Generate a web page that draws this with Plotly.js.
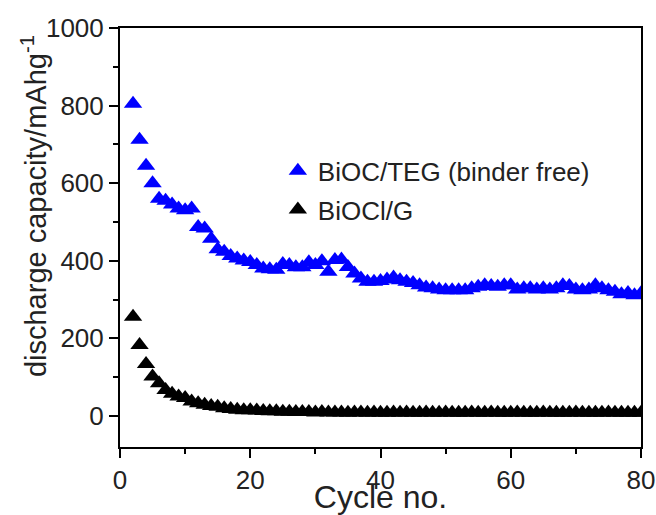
<!DOCTYPE html>
<html>
<head>
<meta charset="utf-8">
<script src="https://cdn.plot.ly/plotly-3.0.1.min.js"></script>
<style>html,body{margin:0;padding:0;background:#fff;}#chart{width:656px;height:515px;}</style>
</head>
<body>
<div id="chart"></div>
<script>
const cycles = [2,3,4,5,6,7,8,9,10,11,12,13,14,15,16,17,18,19,20,21,22,23,24,25,26,27,28,29,30,31,32,33,34,35,36,37,38,39,40,41,42,43,44,45,46,47,48,49,50,51,52,53,54,55,56,57,58,59,60,61,62,63,64,65,66,67,68,69,70,71,72,73,74,75,76,77,78,79,80];
const bioTEG = [805,712,645,600,560,555,545,535,530,535,487,483,457,430,423,412,406,401,397,389,380,378,377,392,389,383,383,396,389,399,372,402,403,384,367,354,346,346,348,352,357,350,346,343,337,331,329,326,324,324,324,324,329,333,337,335,333,337,337,326,329,329,326,329,326,329,337,335,326,324,326,337,329,324,320,314,317,311,316];
const bioG = [256,183,134,102,84,67,57,50,46,37,33,29,26,24,20,18,16,15,15,14,13,12,12,11,11,10,10,10,9,10,9,9,9,8,9,9,8,9,8,8,9,8,9,8,8,9,8,8,9,8,8,8,9,8,8,9,8,8,8,9,8,8,8,9,8,8,8,8,9,8,8,8,8,9,8,8,8,8,8];
const seriesNames = ['BiOC/TEG (binder free)', 'BiOCl/G'];
const xTickVals = [0,20,40,60,80];
const yTickVals = [0,200,400,600,800,1000];

const FONT = 'Liberation Sans, Arial, sans-serif';
const traces = [
  {x: cycles, y: bioTEG, name: seriesNames[0], type: 'scatter', mode: 'markers', legendgroup: 'a',
   marker: {symbol: 'triangle-up', size: 16, color: '#0000ff', line: {width: 0}}},
  {x: cycles, y: bioG, name: seriesNames[1], type: 'scatter', mode: 'markers', legendgroup: 'b',
   marker: {symbol: 'triangle-up', size: 16, color: '#000000', line: {width: 0}}}
];
const axisCommon = {
  showgrid: false, zeroline: false, showline: true, linecolor: '#000', linewidth: 2, mirror: true,
  ticks: 'outside', ticklen: 9, tickwidth: 2, tickcolor: '#000',
  tickfont: {family: FONT, size: 26, color: '#222'}
};
const layout = {
  width: 656, height: 515,
  margin: {l: 120, r: 15, t: 28, b: 68},
  paper_bgcolor: '#fff', plot_bgcolor: '#fff',
  showlegend: true,
  legend: {x: 0.303, y: 0.715, xanchor: 'left', yanchor: 'top', bgcolor: 'rgba(0,0,0,0)',
           font: {family: FONT, size: 26, color: '#222'}, tracegroupgap: 2},
  xaxis: Object.assign({}, axisCommon, {
    range: [0, 80], tickvals: xTickVals,
    minor: {dtick: 10, ticks: 'outside', ticklen: 5, tickwidth: 2, tickcolor: '#000'},
    title: {text: 'Cycle no.', font: {family: FONT, size: 32, color: '#222'}, standoff: 0}
  }),
  yaxis: Object.assign({}, axisCommon, {
    range: [-80, 1000], tickvals: yTickVals,
    minor: {dtick: 100, tick0: 0, ticks: 'outside', ticklen: 5, tickwidth: 2, tickcolor: '#000'}
  }),
  annotations: [{
    text: 'discharge capacity/mAhg<sup>-1</sup>', textangle: -90, showarrow: false,
    xref: 'paper', yref: 'paper', x: -0.165, y: 0.575, xanchor: 'center', yanchor: 'middle',
    font: {family: FONT, size: 29, color: '#222'}
  }]
};
Plotly.newPlot('chart', traces, layout, {displayModeBar: false, staticPlot: true});
</script>
</body>
</html>
